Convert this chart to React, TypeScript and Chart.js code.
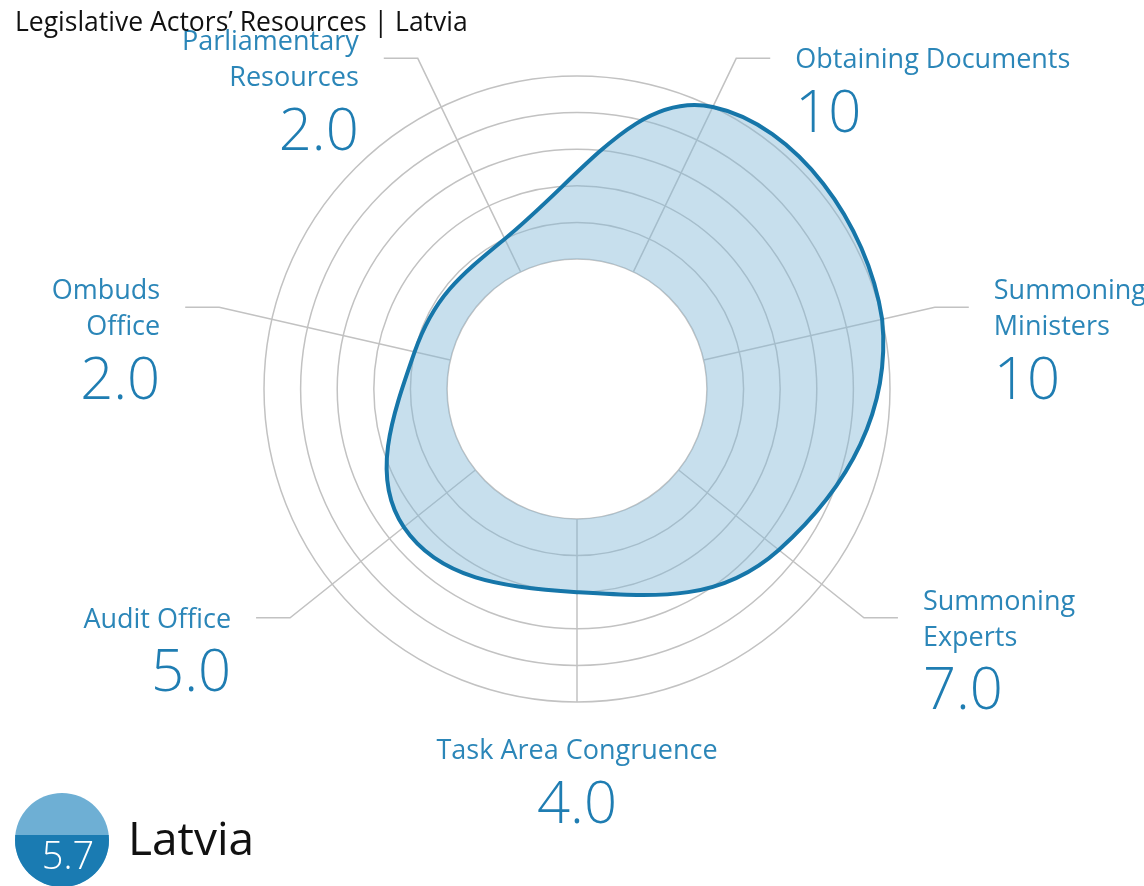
import React, { useEffect, useRef } from 'react';
import { Chart, registerables } from 'chart.js';

Chart.register(...registerables);

const categories = [
  'Obtaining Documents',
  'Summoning Ministers',
  'Summoning Experts',
  'Task Area Congruence',
  'Audit Office',
  'Ombuds Office',
  'Parliamentary Resources',
];
const labelLines = [
  ['Obtaining Documents'],
  ['Summoning', 'Ministers'],
  ['Summoning', 'Experts'],
  ['Task Area Congruence'],
  ['Audit Office'],
  ['Ombuds', 'Office'],
  ['Parliamentary', 'Resources'],
];
const scores = [10, 10, 7, 4, 5, 2, 2];
const scoreLabels = ['10', '10', '7.0', '4.0', '5.0', '2.0', '2.0'];
const gridValues = [0, 2, 4, 6, 8, 10];
const title = 'Legislative Actors’ Resources | Latvia';
const country = 'Latvia';
const overallScore = '5.7';

const FONT = '"Open Sans", "Noto Sans", sans-serif';
const BLUE_TEXT = '#2b86b8';
const GRID = '#c2c2c2';

const overlay = {
  id: 'overlay',
  beforeDatasetsDraw(chart: any) {
    const s = chart.scales.r;
    const ctx = chart.ctx;
    ctx.save();
    ctx.strokeStyle = GRID;
    ctx.lineWidth = 1.5;
    for (let i = 0; i < categories.length; i++) {
      const inner = s.getPointPositionForValue(i, 0);
      const outerRing = s.getPointPosition(i, s.drawingArea);
      const bottom = Math.abs(outerRing.x - s.xCenter) < 2;
      const ext = bottom ? s.drawingArea : s.drawingArea + 54;
      const outer = s.getPointPosition(i, ext);
      ctx.beginPath();
      ctx.moveTo(inner.x, inner.y);
      ctx.lineTo(outer.x, outer.y);
      if (!bottom) {
        const dir = outer.x > s.xCenter ? 1 : -1;
        ctx.lineTo(outer.x + dir * 34, outer.y);
      }
      ctx.stroke();
    }
    ctx.restore();
  },
  afterDraw(chart: any) {
    const s = chart.scales.r;
    const ctx = chart.ctx;
    ctx.save();
    ctx.textBaseline = 'middle';
    for (let i = 0; i < categories.length; i++) {
      const outerRing = s.getPointPosition(i, s.drawingArea);
      const bottom = Math.abs(outerRing.x - s.xCenter) < 2;
      const lines = labelLines[i];
      const lh = 36;
      let x: number;
      let y0: number;
      if (bottom) {
        x = s.xCenter;
        y0 = outerRing.y + 49;
        ctx.textAlign = 'center';
      } else {
        const p = s.getPointPosition(i, s.drawingArea + 54);
        const dir = p.x > s.xCenter ? 1 : -1;
        x = p.x + dir * 59;
        y0 = p.y + 2 - ((lines.length - 1) * lh) / 2;
        ctx.textAlign = dir > 0 ? 'left' : 'right';
      }
      ctx.fillStyle = BLUE_TEXT;
      ctx.font = `400 27px ${FONT}`;
      lines.forEach((t, k) => ctx.fillText(t, x, y0 + k * lh));
      const lastY = y0 + (lines.length - 1) * lh;
      ctx.fillStyle = '#1f7db2';
      ctx.font = `300 58px ${FONT}`;
      ctx.fillText(scoreLabels[i], x, lastY + 55);
    }

    // title
    ctx.textAlign = 'left';
    ctx.fillStyle = '#111';
    ctx.font = `400 26.5px ${FONT}`;
    ctx.fillText(title, 15, 23);

    // badge
    const cx = 62, cy = 840, r = 47;
    ctx.save();
    ctx.beginPath();
    ctx.arc(cx, cy, r, 0, Math.PI * 2);
    ctx.clip();
    ctx.fillStyle = '#6eafd4';
    ctx.fillRect(cx - r, cy - r, 2 * r, 2 * r);
    ctx.fillStyle = '#1a7bb2';
    ctx.fillRect(cx - r, 835, 2 * r, cy + r - 835);
    ctx.restore();
    ctx.fillStyle = '#ffffff';
    ctx.textAlign = 'center';
    ctx.font = `300 38px ${FONT}`;
    ctx.fillText(overallScore, 68, 858);
    ctx.fillStyle = '#111';
    ctx.textAlign = 'left';
    ctx.font = `400 46px ${FONT}`;
    ctx.fillText(country, 128, 842);
    ctx.restore();
  },
};

export default function App() {
  const ref = useRef<HTMLCanvasElement | null>(null);
  useEffect(() => {
    if (!ref.current) return;
    const chart = new Chart(ref.current, {
      type: 'radar',
      data: {
        labels: categories,
        datasets: [
          {
            label: 'Latvia',
            data: scores,
            borderColor: '#1676a9',
            borderWidth: 4,
            backgroundColor: 'rgba(130, 184, 214, 0.45)',
            fill: 'origin',
            tension: 0.42,
            pointRadius: 0,
            pointHoverRadius: 0,
          },
        ],
      },
      options: {
        responsive: false,
        maintainAspectRatio: false,
        animation: false,
        devicePixelRatio: 1,
        layout: { padding: { left: 263, right: 253, top: 76, bottom: 183 } },
        plugins: { legend: { display: false }, tooltip: { enabled: false } },
        scales: {
          r: {
            min: -7.1,
            max: 10,
            startAngle: 360 / 14,
            ticks: { display: false, stepSize: 1 },
            pointLabels: { display: false },
            angleLines: { display: false },
            grid: {
              circular: true,
              lineWidth: 1.5,
              color: (c: any) => {
                const v = c.tick ? c.tick.value : -1;
                return gridValues.some((g) => Math.abs(g - v) < 1e-6) ? GRID : 'rgba(0,0,0,0)';
              },
            },
          },
        },
      },
      plugins: [overlay],
    });
    return () => chart.destroy();
  }, []);
  return (
    <div style={{ position: 'absolute', left: 0, top: 0, width: 1144, height: 886, background: '#fff' }}>
      <canvas ref={ref} width={1144} height={886} style={{ width: 1144, height: 886, display: 'block' }} />
    </div>
  );
}
